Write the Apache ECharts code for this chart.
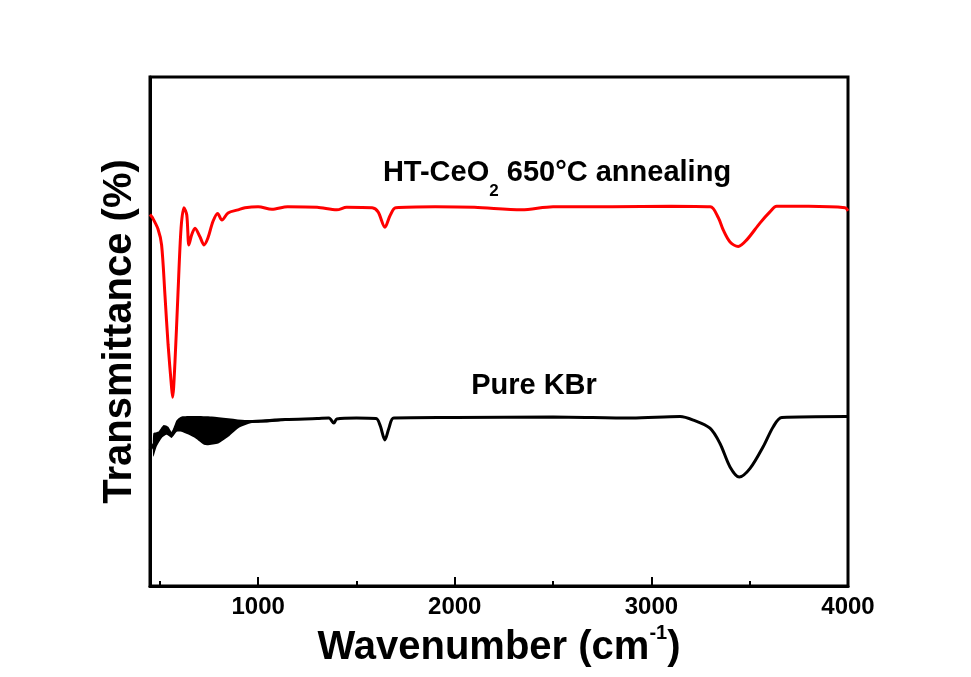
<!DOCTYPE html>
<html>
<head>
<meta charset="utf-8">
<script src="https://cdn.jsdelivr.net/npm/echarts@6/dist/echarts.min.js"></script>
<style>
  html, body { margin: 0; padding: 0; background: #fff; }
  #myLine { width: 971px; height: 677px; }
</style>
</head>
<body>
<div id="myLine"></div>
<script>
// FTIR spectra, transmittance in arbitrary units (0-100 = full box height)
var redWave = [450, 462, 491, 509, 526, 542, 560, 565, 577, 592, 608, 623, 637, 648, 662, 679, 704, 725, 745, 770, 794, 816, 847, 898, 933,
  1000, 1070, 1150, 1300, 1400, 1450, 1580, 1610, 1645, 1670, 1700, 1900, 2100, 2340, 2500, 2800, 3100,
  3300, 3340, 3366, 3400, 3442, 3485, 3552, 3603, 3637, 3800, 3985, 4000];
var redT = [73.0, 72.4, 70.1, 67.0, 57.2, 47.4, 38.9, 37.1, 44.0, 57.2, 70.3, 74.3, 72.9, 67.0, 69.0, 70.3, 68.6, 67.0, 68.4, 71.6, 73.2, 71.9, 73.3, 73.9, 74.3,
  74.5, 74.0, 74.5, 74.4, 73.9, 74.4, 74.3, 73.5, 70.5, 72.7, 74.3, 74.5, 74.4, 73.9, 74.5, 74.5, 74.6,
  74.5, 72.4, 69.9, 67.6, 66.7, 68.0, 71.3, 73.5, 74.6, 74.6, 74.3, 73.7];

var blackWave = [450, 467, 492, 518, 543, 560, 586, 611, 679, 764, 848, 933, 1018, 1137, 1300, 1360, 1385, 1400, 1500, 1600, 1620, 1645, 1665, 1690,
  2000, 2500, 2900, 3146, 3213, 3298, 3349, 3400, 3447, 3502, 3569, 3620, 3663, 3993, 4000];
var blackT = [26.7, 27.7, 29.1, 30.3, 30.5, 29.7, 31.4, 31.8, 31.2, 30.6, 31.4, 32.2, 32.4, 32.7, 32.9, 33.0, 32.0, 32.8, 33.0, 32.9, 31.6, 28.7, 31.0, 33.0,
  33.1, 33.2, 33.0, 33.3, 32.6, 31.0, 28.0, 23.4, 21.4, 23.1, 27.4, 31.3, 33.1, 33.3, 33.3];

// noisy envelope of the KBr trace at low wavenumber
var bandTopWave = [467, 492, 518, 543, 560, 586, 611, 679, 764, 933, 1018, 1137];
var bandTop = [30.0, 30.3, 31.6, 31.3, 30.3, 32.6, 33.3, 33.4, 33.3, 32.6, 32.6, 32.9];
var bandBottomWave = [467, 484, 510, 535, 560, 586, 611, 679, 730, 797, 848, 899, 967, 1035, 1137];
var bandBottom = [25.4, 27.4, 29.1, 29.7, 29.1, 30.3, 30.3, 29.1, 27.7, 28.0, 29.3, 31.0, 32.0, 32.1, 32.5];

var majorTicks = [1000, 2000, 3000, 4000];
var minorTicks = [500, 1500, 2500, 3500];

function pairs(xs, ys) {
  var out = [];
  for (var i = 0; i < xs.length; i++) out.push([xs[i], ys[i]]);
  return out;
}

var FONT = '"Liberation Sans", Arial, sans-serif';
var myLine = echarts.init(document.getElementById('myLine'));

var option = {
  backgroundColor: '#fff',
  animation: false,
  grid: {
    left: 150, right: 123, top: 77, bottom: 91,
    show: true, borderColor: '#000', borderWidth: 3, backgroundColor: 'transparent'
  },
  xAxis: [
    {
      type: 'value',
      min: 450,
      max: 4000,
      name: '{a|Wavenumber (cm}{s|-1}{a|)}',
      nameLocation: 'middle',
      nameGap: 37,
      nameTextStyle: {
        rich: {
          a: { fontFamily: FONT, fontWeight: 'bold', fontSize: 40, color: '#000', lineHeight: 44, verticalAlign: 'bottom' },
          s: { fontFamily: FONT, fontWeight: 'bold', fontSize: 20, color: '#000', verticalAlign: 'top' }
        }
      },
      axisLine: { show: true, onZero: false, lineStyle: { color: '#000', width: 3 } },
      axisTick: { show: true, inside: true, length: 9, customValues: majorTicks, lineStyle: { color: '#000', width: 2 } },
      axisLabel: {
        customValues: majorTicks, margin: 9, color: '#000', fontFamily: FONT, fontWeight: 'bold', fontSize: 24,
        formatter: function (value) { return String(value); }
      },
      splitLine: { show: false }
    },
    {
      // minor ticks
      type: 'value',
      position: 'bottom',
      min: 450,
      max: 4000,
      axisLine: { show: false },
      axisTick: { show: true, inside: true, length: 5, customValues: minorTicks, lineStyle: { color: '#000', width: 2 } },
      axisLabel: { show: false },
      splitLine: { show: false }
    }
  ],
  yAxis: {
    type: 'value',
    min: 0,
    max: 100,
    name: 'Transmittance (%)',
    nameLocation: 'middle',
    nameGap: 10,
    nameTextStyle: { fontFamily: FONT, fontWeight: 'bold', fontSize: 40, color: '#000' },
    axisLine: { show: true, lineStyle: { color: '#000', width: 3 } },
    axisTick: { show: false },
    axisLabel: { show: false },
    splitLine: { show: false }
  },
  graphic: [
    {
      type: 'text',
      x: 557,
      y: 158,
      style: {
        text: '{a|HT-CeO}{s|2}{a| 650°C annealing}',
        align: 'center',
        verticalAlign: 'top',
        rich: {
          a: { fontFamily: FONT, fontWeight: 'bold', fontSize: 29, fill: '#000', lineHeight: 42, verticalAlign: 'top' },
          s: { fontFamily: FONT, fontWeight: 'bold', fontSize: 17, fill: '#000', verticalAlign: 'bottom' }
        }
      }
    },
    {
      type: 'text',
      x: 534,
      y: 371,
      style: {
        text: 'Pure KBr',
        align: 'center',
        verticalAlign: 'top',
        fontFamily: FONT,
        fontWeight: 'bold',
        fontSize: 29,
        fill: '#000'
      }
    }
  ],
  series: [
    {
      name: 'HT-CeO2 650°C annealing',
      type: 'line',
      data: pairs(redWave, redT),
      showSymbol: false,
      smooth: 0.3,
      lineStyle: { color: '#ff0000', width: 3 }
    },
    {
      name: 'KBr band',
      type: 'custom',
      data: [0],
      renderItem: function (params, api) {
        var pts = [];
        for (var i = 0; i < bandTopWave.length; i++) pts.push(api.coord([bandTopWave[i], bandTop[i]]));
        for (var j = bandBottomWave.length - 1; j >= 0; j--) pts.push(api.coord([bandBottomWave[j], bandBottom[j]]));
        return { type: 'polygon', shape: { points: pts, smooth: 0.2 }, style: { fill: '#000' } };
      },
      silent: true
    },
    {
      name: 'Pure KBr',
      type: 'line',
      data: pairs(blackWave, blackT),
      showSymbol: false,
      smooth: 0.3,
      lineStyle: { color: '#000', width: 3 }
    }
  ]
};

myLine.setOption(option);
</script>
</body>
</html>
